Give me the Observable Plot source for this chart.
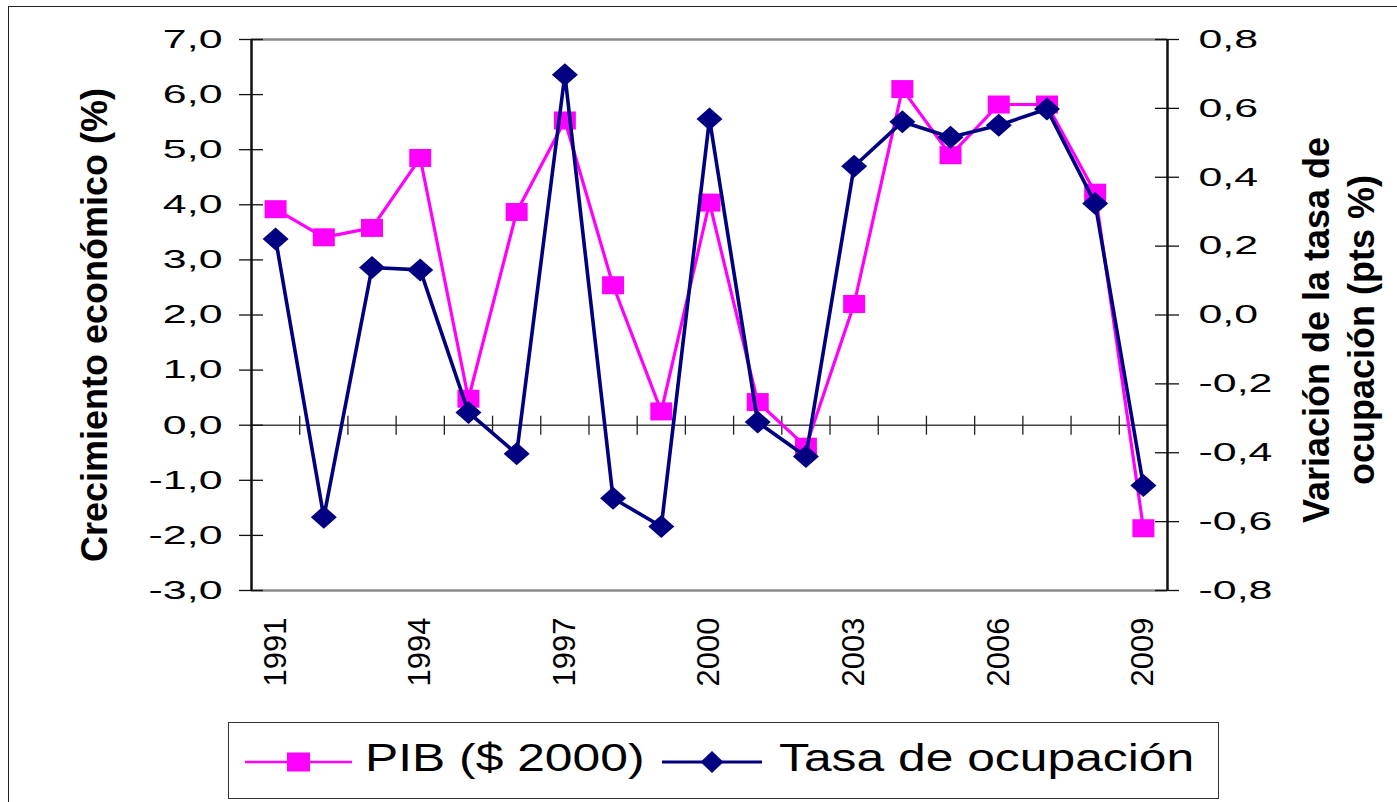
<!DOCTYPE html>
<html>
<head>
<meta charset="utf-8">
<script src="https://cdn.jsdelivr.net/npm/d3@7"></script>
<script src="https://cdn.jsdelivr.net/npm/@observablehq/plot@0.6"></script>
<style>
  html, body { margin: 0; padding: 0; background: #fff; }
  body { width: 1397px; height: 802px; position: relative; overflow: hidden; font-family: "Liberation Sans", Arial, sans-serif; }
  #frame { position: absolute; left: 8px; top: 6px; width: 1400px; height: 800px; border: 1.5px solid #222; box-sizing: border-box; }
  #chart { position: absolute; left: 0; top: 0; }
  #legend { position: absolute; left: 228px; top: 722px; width: 991px; height: 77px; border: 1.5px solid #333; box-sizing: border-box; background: #fff; }
  #legend .sw { position: absolute; top: 24px; }
  #legend .lt { position: absolute; top: 16px; font-size: 38px; line-height: 38px; white-space: nowrap; transform-origin: 0 50%; transform: scaleX(1.31); color: #000; }
</style>
</head>
<body>
<div id="frame"></div>
<div id="chart"></div>
<div id="legend"></div>
<script>
// ---- data ----
const years = [1991, 1992, 1993, 1994, 1995, 1996, 1997, 1998, 1999, 2000, 2001, 2002, 2003, 2004, 2005, 2006, 2007, 2008, 2009];
const pib = [3.92, 3.41, 3.58, 4.85, 0.48, 3.87, 5.53, 2.54, 0.25, 4.04, 0.42, -0.39, 2.20, 6.10, 4.90, 5.82, 5.82, 4.22, -1.87];
const tasa = [0.221, -0.587, 0.138, 0.131, -0.283, -0.403, 0.698, -0.532, -0.614, 0.569, -0.311, -0.411, 0.432, 0.561, 0.516, 0.551, 0.598, 0.324, -0.495];
const leftTicks = [-3, -2, -1, 0, 1, 2, 3, 4, 5, 6, 7];
const rightTicks = [-0.8, -0.6, -0.4, -0.2, 0, 0.2, 0.4, 0.6, 0.8];
const xTickYears = [1991, 1994, 1997, 2000, 2003, 2006, 2009];
const seriesNames = ["PIB ($ 2000)", "Tasa de ocupación"];
const colors = ["#FF00FF", "#000080"];
const leftTitle = "Crecimiento económico (%)";
const rightTitle = ["Variación de la tasa de", "ocupación (pts %)"];

// ---- helpers ----
const L0 = leftTicks[0], L1 = leftTicks[leftTicks.length - 1];
const R0 = rightTicks[0], R1 = rightTicks[rightTicks.length - 1];
const toLeft = t => L0 + (t - R0) * (L1 - L0) / (R1 - R0);
const fromLeft = v => R0 + (v - L0) * (R1 - R0) / (L1 - L0);
const fmt = v => { if (Math.abs(v) < 1e-9) v = 0; return (v < 0 ? "-" : "") + Math.abs(v).toFixed(1).replace(".", ","); };
const data = years.map((year, i) => ({year, pib: pib[i], tasa: tasa[i]}));
const xDomain = [years[0] - 0.5, years[years.length - 1] + 0.5];
const bounds = years.slice(1).map(y => y - 0.5);

const squareSym = {draw(ctx) { ctx.moveTo(-11, -9); ctx.lineTo(11, -9); ctx.lineTo(11, 9); ctx.lineTo(-11, 9); ctx.closePath(); }};
const diamondSym = {draw(ctx) { ctx.moveTo(0, -11.5); ctx.lineTo(13, 0); ctx.lineTo(0, 11.5); ctx.lineTo(-13, 0); ctx.closePath(); }};

const chart = Plot.plot({
  width: 1397,
  height: 715,
  marginLeft: 251,
  marginRight: 230,
  marginTop: 39,
  marginBottom: 125,
  style: {fontFamily: "'Liberation Sans', Arial, sans-serif", background: "transparent", color: "#000", overflow: "visible"},
  x: {domain: xDomain, axis: null},
  y: {domain: [L0, L1], axis: null},
  marks: [
    // zero line with category boundary ticks
    Plot.ruleY([0], {stroke: "#444", strokeWidth: 1.5}),
    Plot.ruleX(bounds, {x: d => d, y1: 0, y2: 0, insetTop: -9, insetBottom: -10, stroke: "#222", strokeWidth: 1.3}),
    // plot area border
    Plot.ruleY([L0, L1], {stroke: "#8a8a8a", strokeWidth: 2.5}),
    Plot.ruleX(xDomain, {stroke: "#111", strokeWidth: 2.5}),
    // crossing axis ticks
    Plot.ruleY(leftTicks, {y: d => d, x1: xDomain[0], x2: xDomain[0], insetLeft: -12, insetRight: -12, stroke: "#111", strokeWidth: 1.3}),
    Plot.ruleY(rightTicks, {y: d => toLeft(d), x1: xDomain[1], x2: xDomain[1], insetLeft: -12, insetRight: -12, stroke: "#111", strokeWidth: 1.3}),
    // axes labels
    Plot.axisY(leftTicks, {anchor: "left", tickSize: 0, tickPadding: 29, tickFormat: fmt, fontSize: 26, label: null}),
    Plot.axisY(rightTicks.map(toLeft), {anchor: "right", tickSize: 0, tickPadding: 31, tickFormat: d => fmt(fromLeft(d)), fontSize: 26, label: null}),
    Plot.text(xTickYears, {x: d => d, text: d => String(d), frameAnchor: "bottom", rotate: -90, textAnchor: "end", lineAnchor: "middle", dy: 27, dx: 0, fontSize: 31, fill: "#000"}),
    // titles
    Plot.text([leftTitle], {frameAnchor: "left", rotate: -90, textAnchor: "middle", lineAnchor: "middle", dx: -156, dy: 10, fontSize: 36, fontWeight: "bold", fill: "#000"}),
    Plot.text([rightTitle.join("\n")], {frameAnchor: "right", rotate: -90, textAnchor: "middle", lineAnchor: "middle", dx: 170, dy: 15, lineHeight: 1.25, fontSize: 36, fontWeight: "bold", fill: "#000"}),
    // series
    Plot.line(data, {x: "year", y: "pib", stroke: colors[0], strokeWidth: 3.2}),
    Plot.dot(data, {x: "year", y: "pib", symbol: squareSym, fill: colors[0], r: 10}),
    Plot.line(data, {x: "year", y: d => toLeft(d.tasa), stroke: colors[1], strokeWidth: 3.6}),
    Plot.dot(data, {x: "year", y: d => toLeft(d.tasa), symbol: diamondSym, fill: colors[1], r: 10})
  ]
});
document.getElementById("chart").appendChild(chart);

// stretch horizontal tick labels like the original rendering
d3.select(chart).selectAll('g[aria-label="y-axis tick label"] text').each(function() {
  const t = d3.select(this);
  const tr = t.attr("transform");
  if (tr) {
    t.attr("transform", tr + " scale(1.65,1)");
  } else {
    const x = +t.attr("x") || 0, y = +t.attr("y") || 0;
    t.attr("x", null).attr("y", null).attr("transform", `translate(${x},${y}) scale(1.65,1)`);
  }
});

// ---- legend ----
const legend = d3.select("#legend");
const swLeft = [15.5, 432.5];
const txtLeft = [135.5, 549.5];
const swW = [107, 100];
seriesNames.forEach((name, i) => {
  const w = swW[i];
  const svg = legend.append("svg").attr("class", "sw").attr("width", w).attr("height", 30).style("left", swLeft[i] + "px");
  svg.append("line").attr("x1", 0).attr("x2", w).attr("y1", 15).attr("y2", 15).attr("stroke", colors[i]).attr("stroke-width", i === 0 ? 2.5 : 3);
  if (i === 0) {
    svg.append("rect").attr("x", w / 2 - 11.5).attr("y", 15 - 9.5).attr("width", 23).attr("height", 19).attr("fill", colors[i]);
  } else {
    svg.append("path").attr("d", `M${w/2},${15-11}L${w/2+11.5},15L${w/2},${15+11}L${w/2-11.5},15Z`).attr("fill", colors[i]);
  }
  legend.append("div").attr("class", "lt").style("left", txtLeft[i] + "px").text(name);
});
</script>
</body>
</html>
